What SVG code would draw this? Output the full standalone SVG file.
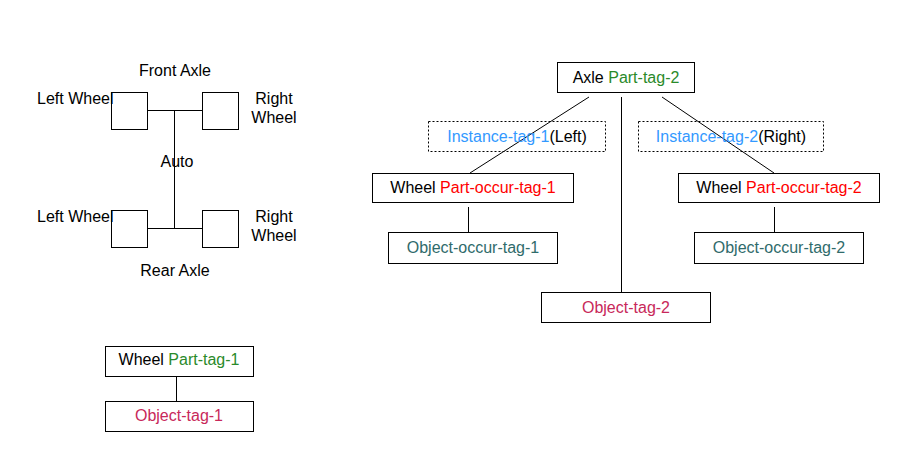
<svg xmlns="http://www.w3.org/2000/svg" width="899" height="465" viewBox="0 0 899 465">
<style>
text{font-family:"Liberation Sans",Arial,sans-serif;font-size:16px;fill:#000}
.box{fill:#fff;stroke:#000;stroke-width:1}
.dash{fill:none;stroke:#000;stroke-width:1;stroke-dasharray:2,2}
.ln{stroke:#000;stroke-width:1;fill:none}
.g{fill:#2A8A2A}.r{fill:#FF0000}.b{fill:#3399FF}.t{fill:#2F6B6B}.c{fill:#C8285A}
</style>
<rect width="899" height="465" fill="#fff"/>
<g id="connectors">
<line class="ln" x1="147" y1="110.5" x2="202" y2="110.5"/>
<line class="ln" x1="174.5" y1="110.5" x2="174.5" y2="228.5"/>
<line class="ln" x1="147" y1="228.5" x2="202" y2="228.5"/>
<line class="ln" x1="176.5" y1="377" x2="176.5" y2="401"/>
<line class="ln" x1="589" y1="97" x2="470" y2="173"/>
<line class="ln" x1="621.5" y1="97" x2="621.5" y2="292"/>
<line class="ln" x1="662" y1="97" x2="774" y2="173"/>
<line class="ln" x1="468.5" y1="207" x2="468.5" y2="232"/>
<line class="ln" x1="774.5" y1="207" x2="774.5" y2="232"/>
</g>
<g id="wheel-fl"><rect class="box" x="111.5" y="92.5" width="36" height="37"/></g>
<g id="wheel-fr"><rect class="box" x="202.5" y="92.5" width="36" height="37"/></g>
<g id="wheel-rl"><rect class="box" x="111.5" y="210.5" width="36" height="37"/></g>
<g id="wheel-rr"><rect class="box" x="202.5" y="210.5" width="36" height="37"/></g>
<g id="labels-left">
<text x="175" y="76" text-anchor="middle">Front Axle</text>
<text x="37" y="104">Left Wheel</text>
<text x="274" y="104" text-anchor="middle">Right</text>
<text x="274" y="123" text-anchor="middle">Wheel</text>
<text x="177" y="167" text-anchor="middle">Auto</text>
<text x="37" y="222">Left Wheel</text>
<text x="274" y="222" text-anchor="middle">Right</text>
<text x="274" y="241" text-anchor="middle">Wheel</text>
<text x="175" y="276" text-anchor="middle">Rear Axle</text>
</g>
<g id="wheel-part-tag-1"><rect class="box" x="105.5" y="346.5" width="148" height="30"/><text x="179" y="365" text-anchor="middle">Wheel <tspan class="g">Part-tag-1</tspan></text></g>
<g id="object-tag-1"><rect class="box" x="105.5" y="401.5" width="148" height="30"/><text x="179" y="421" text-anchor="middle" class="c">Object-tag-1</text></g>
<g id="axle-part-tag-2"><rect class="box" x="557.5" y="62.5" width="137" height="30"/><text x="626" y="83" text-anchor="middle">Axle <tspan class="g">Part-tag-2</tspan></text></g>
<g id="instance-tag-1"><rect class="dash" x="428.5" y="121.5" width="177" height="30"/><text x="517" y="142" text-anchor="middle"><tspan class="b">Instance-tag-1</tspan>(Left)</text></g>
<g id="instance-tag-2"><rect class="dash" x="638.5" y="121.5" width="185" height="30"/><text x="731" y="142" text-anchor="middle"><tspan class="b">Instance-tag-2</tspan>(Right)</text></g>
<g id="wheel-occur-1"><rect class="box" x="372.5" y="173.5" width="201" height="29"/><text x="473" y="193" text-anchor="middle">Wheel <tspan class="r">Part-occur-tag-1</tspan></text></g>
<g id="wheel-occur-2"><rect class="box" x="678.5" y="173.5" width="201" height="29"/><text x="779" y="193" text-anchor="middle">Wheel <tspan class="r">Part-occur-tag-2</tspan></text></g>
<g id="object-occur-1"><rect class="box" x="388.5" y="232.5" width="169" height="31"/><text x="473" y="253" text-anchor="middle" class="t">Object-occur-tag-1</text></g>
<g id="object-occur-2"><rect class="box" x="694.5" y="232.5" width="169" height="31"/><text x="779" y="253" text-anchor="middle" class="t">Object-occur-tag-2</text></g>
<g id="object-tag-2"><rect class="box" x="541.5" y="292.5" width="169" height="30"/><text x="626" y="313" text-anchor="middle" class="c">Object-tag-2</text></g>
</svg>
